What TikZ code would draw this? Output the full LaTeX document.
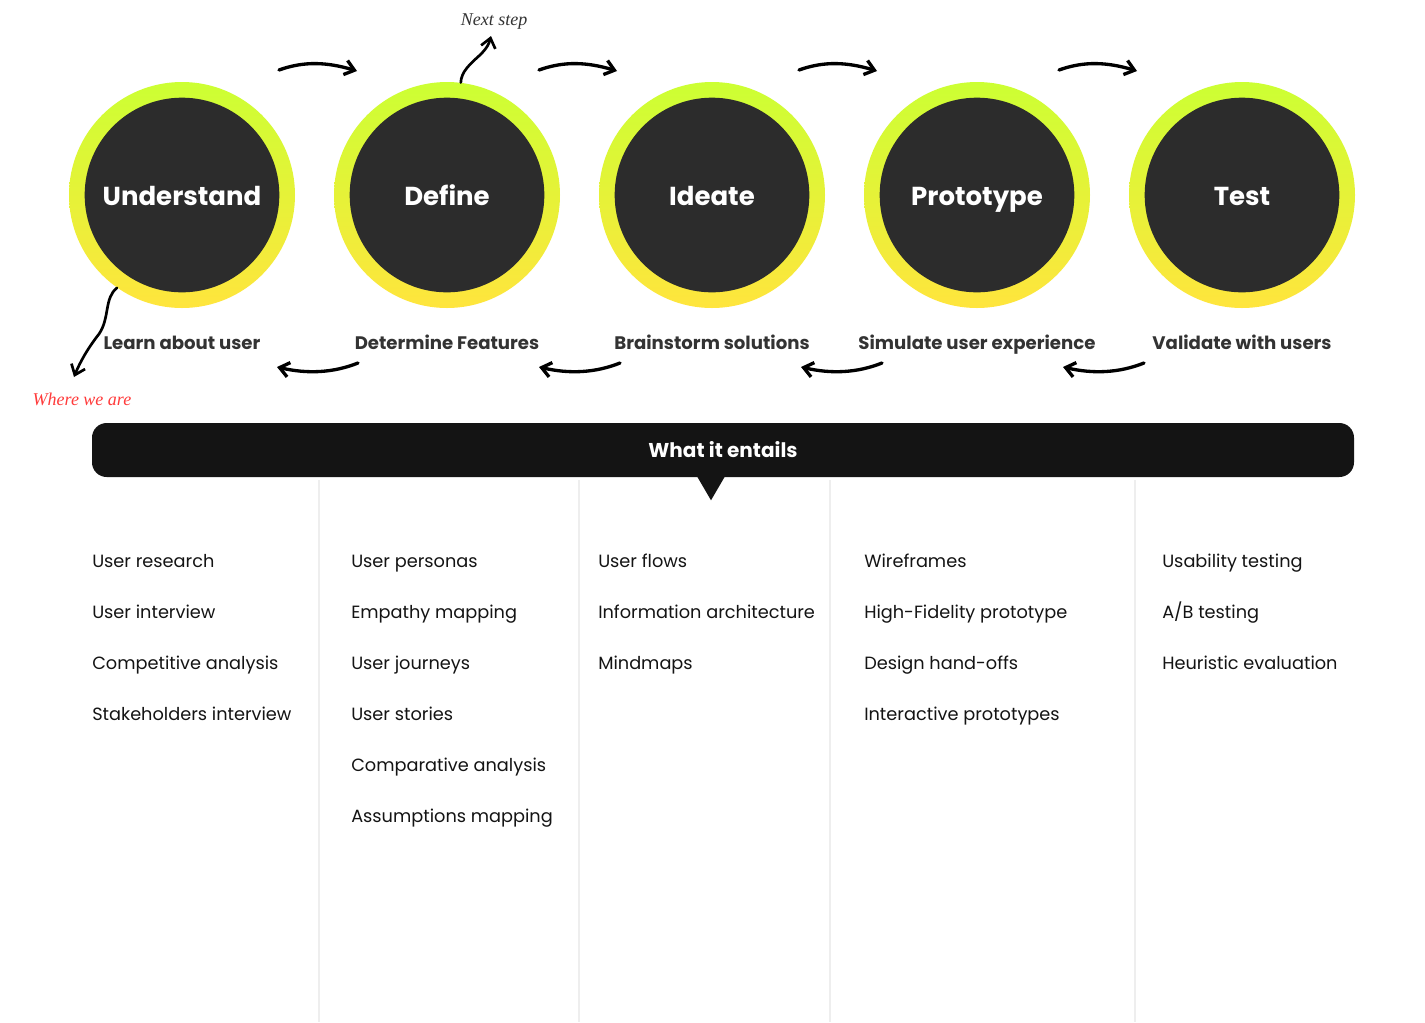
\documentclass[tikz,border=0pt]{standalone}
\usepackage{fontspec}
\setmainfont{Poppins}
\newfontfamily\handfont{Liberation Serif}
\usetikzlibrary{arrows.meta,calc}

\definecolor{lime}{HTML}{CCFF33}
\definecolor{sun}{HTML}{FFE53D}
\definecolor{coal}{HTML}{2C2C2C}
\definecolor{ink}{HTML}{141414}
\definecolor{labelgray}{HTML}{333333}
\definecolor{rulegray}{HTML}{EEEEEE}
\definecolor{notered}{HTML}{FF3B3B}

\tikzset{
  ring/.style={circle, minimum size=169.5pt, inner sep=0pt, top color=lime, bottom color=sun},
  core/.style={circle, minimum size=146pt, inner sep=0pt, fill=coal},
  title/.style={anchor=base, inner sep=0pt, text=white, font=\fontsize{19.5pt}{24pt}\selectfont\bfseries},
  phase/.style={anchor=base, text=labelgray, font=\fontsize{13.6pt}{16pt}\selectfont\bfseries},
  item/.style={anchor=base west, inner sep=0pt, text=ink, font=\fontsize{13.3pt}{16pt}\selectfont},
  banner/.style={fill=ink, text=white, rounded corners=11pt, minimum width=946.5pt,
    minimum height=40.5pt, font=\fontsize{15pt}{18pt}\selectfont\bfseries},
  scribble/.style={text=labelgray, font=\handfont\itshape\fontsize{13.5pt}{15pt}\selectfont},
  hand/.style={-{Straight Barb[length=7pt,width=11pt]}, line width=2.5pt, line cap=round},
  divider/.style={draw=rulegray, line width=1.1pt}
}

\begin{document}
\begin{tikzpicture}[x=0.75pt, y=-0.75pt]
  \fill[white] (0,0) rectangle (1425,1022);
  \useasboundingbox (0,0) rectangle (1425,1022);

  % phases
  \foreach \name/\sub [count=\i from 0] in {Understand/Learn about user, Define/Determine Features,
      Ideate/Brainstorm solutions, Prototype/Simulate user experience, Test/Validate with users} {
    \node[ring] (c\i) at (182+265*\i,195) {};
    \node[core] (k\i) at (c\i) {};
    \node[title] (t\i) at ($(c\i)+(0,10)$) {\name};
    \node[phase] (p\i) at ($(c\i)+(0,154)$) {\sub};
  }

  % forward arrows
  \foreach \i in {0,...,3} {
    \coordinate (fa\i) at (279+260*\i,70);
    \coordinate (fb\i) at (357+260*\i,71);
    \draw[hand] (fa\i) .. controls ($(fa\i)+(25,-9)$) and ($(fb\i)+(-30,-9)$) .. (fb\i);
  }

  % back arrows
  \foreach \i in {0,...,3} {
    \coordinate (ba\i) at (358+262*\i,363);
    \coordinate (bb\i) at (277+262*\i,367);
    \draw[hand] (ba\i) .. controls ($(ba\i)+(-25,10)$) and ($(bb\i)+(30,7)$) .. (bb\i);
  }

  % notes
  \node[scribble] (nxt) at (494,22) {Next step};
  \coordinate (nxttip) at (491,36);
  \draw[hand, line width=2pt] (c1.83) .. controls (461,72) and (470,64) .. (480,55)
    .. controls (487,48) and (489,44) .. (nxttip);

  \node[scribble, text=notered] (wh) at (82,399) {Where we are};
  \coordinate (whtip) at (74,377);
  \draw[hand, line width=2pt] (c0.235) .. controls (104,298) and (110,318) .. (99,334)
    .. controls (88,348) and (80,362) .. (whtip);

  % columns
  \foreach \x in {319,579,830,1135}
    \draw[divider] (\x,480) -- (\x,1022);

  \node[banner] (ent) at (723,450) {What it entails};
  \fill[ink] ($(ent.south)+(-26,-1)$) -- ($(ent.south)+(2,-1)$) -- ($(ent.south)+(-12,23)$) -- cycle;

  \foreach \x/\items [count=\c] in {
      92/{User research,User interview,Competitive analysis,Stakeholders interview},
      351/{User personas,Empathy mapping,User journeys,User stories,Comparative analysis,Assumptions mapping},
      598/{User flows,Information architecture,Mindmaps},
      864/{Wireframes,High-Fidelity prototype,Design hand-offs,Interactive prototypes},
      1162/{Usability testing,A/B testing,Heuristic evaluation}} {
    \foreach \t [count=\k] in \items
      \node[item] (l\c-\k) at (\x,516+51*\k) {\t};
  }
\end{tikzpicture}
\end{document}
